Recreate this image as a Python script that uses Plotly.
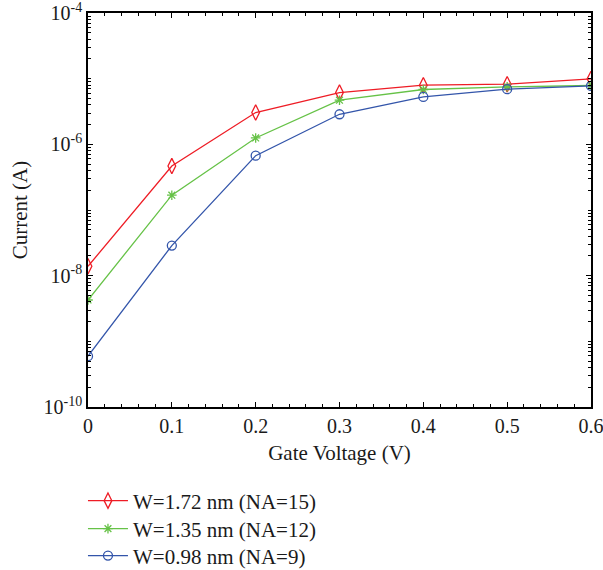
import numpy as np
import plotly.graph_objects as go

# Gate voltage sweep (V)
gate_voltage = [0.0, 0.1, 0.2, 0.3, 0.4, 0.5, 0.6]

# Drain current (A) for each nanoribbon width
current_w172 = [1.39e-8, 4.67e-7, 3.05e-6, 6.15e-6, 7.96e-6, 8.24e-6, 9.93e-6]
current_w135 = [4.26e-9, 1.68e-7, 1.25e-6, 4.70e-6, 6.84e-6, 7.50e-6, 7.87e-6]
current_w098 = [5.94e-10, 2.87e-8, 6.72e-7, 2.87e-6, 5.27e-6, 6.92e-6, 7.76e-6]

series_names = ["W=1.72 nm (NA=15)", "W=1.35 nm (NA=12)", "W=0.98 nm (NA=9)"]

x_ticks = [0, 0.1, 0.2, 0.3, 0.4, 0.5, 0.6]
x_tick_text = ["0", "0.1", "0.2", "0.3", "0.4", "0.5", "0.6"]
y_ticks = [1e-10, 1e-8, 1e-6, 1e-4]
y_tick_text = ["10<sup>-10</sup>", "10<sup>-8</sup>", "10<sup>-6</sup>", "10<sup>-4</sup>"]

FONT = "Liberation Serif"
TXT = "#1a1a1a"

styles = [
    dict(color="#ee1c25", symbol="diamond-tall-open", size=11),
    dict(color="#66c247", symbol="asterisk-open", size=8),
    dict(color="#3355aa", symbol="circle-open", size=9),
]

# one legend box per series, stacked below the axes
legend_ids = ["legend", "legend2", "legend3"]
legend_rows = [-0.2386, -0.3096, -0.378]

fig = go.Figure()
for name, ys, st, lid in zip(series_names,
                             [current_w172, current_w135, current_w098],
                             styles, legend_ids):
    fig.add_trace(go.Scatter(
        x=gate_voltage, y=ys, name=name, mode="lines+markers",
        legend=lid,
        line=dict(color=st["color"], width=1.3),
        marker=dict(symbol=st["symbol"], size=st["size"], color=st["color"],
                    line=dict(color=st["color"], width=1.3)),
    ))

# minor ticks: 1..9 x 10^n for every decade
minor_y = [k * 10.0 ** n for n in range(-10, -4) for k in range(1, 10)]
minor_y = [v for v in minor_y if v not in y_ticks]
minor_x = [round(v, 2) for v in np.arange(0, 0.601, 0.02)]

axis_common = dict(
    showgrid=False, zeroline=False, showline=True, linecolor="black",
    linewidth=1.5, mirror="ticks", ticks="inside", tickcolor="black",
    ticklen=5, tickwidth=1, ticklabeloverflow="allow",
    tickfont=dict(family=FONT, size=20, color=TXT),
)

fig.update_xaxes(
    **axis_common, range=[0, 0.6], tickmode="array",
    tickvals=x_ticks, ticktext=x_tick_text,
    minor=dict(tickmode="array", tickvals=minor_x, ticks="inside",
               ticklen=3, tickcolor="black", tickwidth=1),
    title=dict(text="Gate Voltage (V)", font=dict(family=FONT, size=21, color=TXT),
               standoff=10),
)
fig.update_yaxes(
    **axis_common, type="log", range=[-10, -4], tickmode="array",
    tickvals=y_ticks, ticktext=y_tick_text,
    minor=dict(tickmode="array", tickvals=minor_y, ticks="inside",
               ticklen=3, tickcolor="black", tickwidth=1),
    title=dict(text="Current (A)", font=dict(family=FONT, size=21, color=TXT),
               standoff=10),
)

legend_style = dict(
    x=-0.01, xanchor="left", yanchor="middle",
    font=dict(family=FONT, size=21, color=TXT),
    bgcolor="rgba(0,0,0,0)", borderwidth=0, itemwidth=40,
)

fig.update_layout(
    width=603, height=570,
    margin=dict(l=88, r=12, t=13, b=163, autoexpand=False),
    plot_bgcolor="white", paper_bgcolor="white",
    showlegend=True,
    legend=dict(**legend_style, y=legend_rows[0]),
    legend2=dict(**legend_style, y=legend_rows[1]),
    legend3=dict(**legend_style, y=legend_rows[2]),
)

fig.write_html("out.html")
